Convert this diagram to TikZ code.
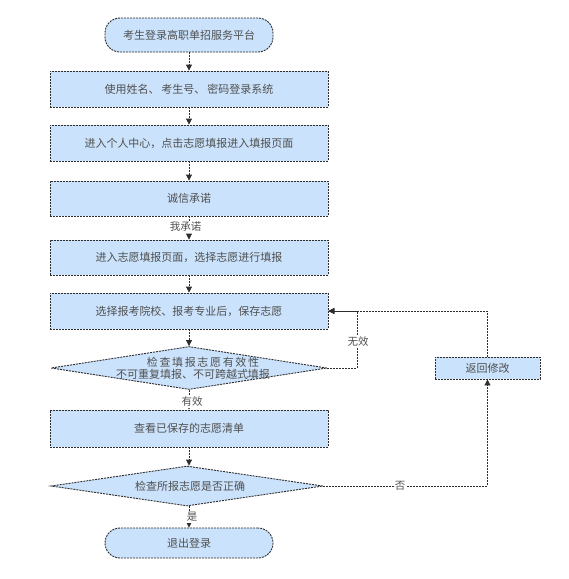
\documentclass[tikz,border=0pt]{standalone}
\usepackage{fontspec}
\newfontfamily\cjk{Noto Sans CJK SC}
\newfontfamily\cjkwide[LetterSpace=15]{Noto Sans CJK SC}
\usetikzlibrary{arrows.meta,shapes.geometric}
\definecolor{boxfill}{RGB}{202,226,251}
\definecolor{edgecol}{RGB}{45,45,45}
\definecolor{txtcol}{RGB}{80,80,80}
\begin{document}
\begin{tikzpicture}[x=1pt,y=-1pt,
  base/.style={draw=edgecol, line width=0.9pt, dash pattern=on 2pt off 1pt, fill=boxfill, text=txtcol, font=\cjk\fontsize{11}{13}\selectfont, inner sep=0pt},
  procbox/.style={base, minimum width=278pt, minimum height=36pt},
  termbox/.style={base, rounded corners=15pt, minimum width=168pt},
  diabox/.style={base, diamond},
  plain/.style={text=txtcol, font=\cjk\fontsize{11}{13}\selectfont, inner sep=0pt},
  lab/.style={fill=white, text=txtcol, font=\cjk\fontsize{10.5}{12}\selectfont, inner sep=1pt},
  conn/.style={draw=edgecol, line width=0.9pt, dash pattern=on 2pt off 1pt, -{Triangle[length=6pt,width=6pt]}},
  line/.style={draw=edgecol, line width=0.9pt, dash pattern=on 2pt off 1pt}
]
\useasboundingbox (0,0) rectangle (569,579);
\fill[white] (0,0) rectangle (569,579);

\node[termbox, minimum height=34pt] (start) at (189,35) {考生登录高职单招服务平台};
\node[procbox] (b1) at (189,89) {使用姓名、\,考生号、\,密码登录系统};
\node[procbox] (b2) at (189,143) {进入个人中心，点击志愿填报进入填报页面};
\node[procbox, minimum height=35pt] (b3) at (189,198.5) {诚信承诺};
\node[procbox, minimum height=35pt] (b4) at (189,257.5) {进入志愿填报页面，选择志愿进行填报};
\node[procbox] (b5) at (189,311) {选择报考院校、报考专业后，保存志愿};
\node[diabox, minimum width=276pt, minimum height=43pt] (d1) at (189,368) {};
\node[plain] (d1a) at (203,362) {\cjkwide 检查填报志愿有效性};
\node[plain] (d1b) at (193,374) {不可重复填报、不可跨越式填报};
\node[procbox, minimum height=37pt] (b6) at (189,428.5) {查看已保存的志愿清单};
\node[diabox, minimum width=272pt, minimum height=40pt] (d2) at (187,486) {};
\node[plain] (d2a) at (190,486) {检查所报志愿是否正确};
\node[termbox, minimum height=30pt] (end) at (189,543) {退出登录};
\node[base, minimum width=105pt, minimum height=22pt] (ret) at (487.5,368) {返回修改};

\draw[conn] (start) -- (b1);
\draw[conn] (b1) -- (b2);
\draw[conn] (b2) -- (b3);
\draw[conn] (b3) -- (b4);
\draw[conn] (b4) -- (b5);
\draw[conn] (b5) -- (d1);
\draw[conn] (d1.south) -- (d1.south |- b6.north);
\draw[conn] (b6) -- (d2.north -| b6.south);
\draw[conn] (d2.south -| end.north) -- (end);

\coordinate (c1) at (357,368);
\draw[conn] (d1.east) -- (c1) |- (b5.east);
\draw[conn] (ret.north) |- (b5.east);
\coordinate (c2) at (487.5,486);
\draw[conn] (d2.east) -- (c2) -- (ret.south);

\node[lab] (l1) at (185.5,227) {我承诺};
\node[lab] (l2) at (192,402) {有效};
\node[lab] (l3) at (192,517) {是};
\node[lab] (l4) at (358,342) {无效};
\node[lab] (l5) at (400,486) {否};
\end{tikzpicture}
\end{document}
